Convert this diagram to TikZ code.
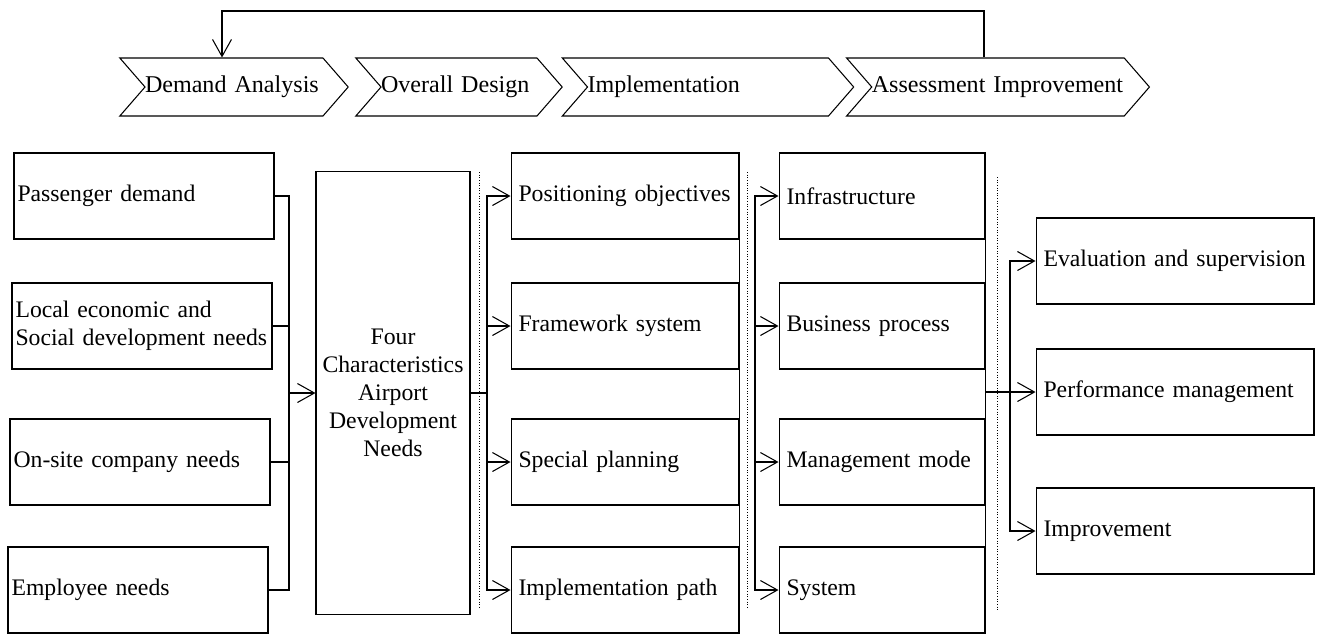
\documentclass[tikz,border=0pt]{standalone}
\usepackage{fontspec}
\setmainfont{Liberation Serif}
\usetikzlibrary{shapes.symbols,arrows.meta}
\tikzset{
  stage/.style={shape=signal,draw,signal from=west,signal to=east,signal pointer angle=98,
    minimum height=1.16cm,inner sep=0pt,text width=#1,align=left,font=\fontsize{13.7}{16}\selectfont},
  needbox/.style={draw,rectangle,minimum height=1.72cm,text width=#1,inner xsep=0.15cm,
    align=left,font=\fontsize{13.5}{16}\selectfont},
  corebox/.style={draw,rectangle,minimum height=8.88cm,text width=2.9cm,inner xsep=0.09cm,
    align=center,font=\fontsize{13.5}{16}\selectfont},
  arr/.style={-{Straight Barb[length=0.34cm,width=0.38cm]}},
  sepline/.style={densely dotted,line width=0.5pt}
}

\begin{document}
\begin{tikzpicture}[x=0.02cm,y=-0.02cm,line width=0.6pt]
  \useasboundingbox (0,0) rectangle (1317,633);

  % stages
  \node[stage=3.56cm] (da) at (234,87) {Demand Analysis};
  \node[stage=3.12cm] (od) at (459,87) {Overall Design};
  \node[stage=4.82cm] (im) at (708,87) {Implementation};
  \node[stage=5.05cm] (ai) at (998,87) {Assessment Improvement};

  % feedback
  \coordinate (fb) at (222,11);
  \draw[arr] ([xshift=-0.28cm]ai.north) |- (fb) -- (fb |- da.north);

  % demands
  \node[needbox=5.06cm,inner xsep=0.07cm] (pd) at (144,196) {Passenger demand};
  \node[needbox=5.06cm,inner xsep=0.07cm] (le) at (142,326) {Local economic and\\Social development needs};
  \node[needbox=5.06cm,inner xsep=0.07cm] (os) at (140,462) {On-site company needs};
  \node[needbox=5.06cm,inner xsep=0.07cm] (en) at (138,590) {Employee needs};
  \node[corebox] (fc) at (393,393) {Four\\Characteristics\\Airport\\Development\\Needs};

  \coordinate (ja) at (289,393);
  \foreach \b in {pd,le,os,en}
    \draw (\b.east) -| (ja);
  \draw[arr] (ja) -- (fc.west);

  % design
  \node[needbox=4.26cm] (po) at (625,196) {Positioning objectives};
  \node[needbox=4.26cm] (fw) at (625,326) {Framework system};
  \node[needbox=4.26cm] (spl) at (625,462) {Special planning};
  \node[needbox=4.26cm] (ip) at (625,590) {Implementation path};

  \coordinate (jb) at (487,393);
  \draw (fc.east) -- (jb);
  \foreach \b in {po,fw,spl,ip}
    \draw[arr] (jb) |- (\b.west);
  \draw (po.north east) -- (ip.south east);

  % implementation
  \node[needbox=3.82cm] (inf) at (882,196) {Infrastructure};
  \node[needbox=3.82cm] (bp) at (882,326) {Business process};
  \node[needbox=3.82cm] (mm) at (882,462) {Management mode};
  \node[needbox=3.82cm] (sys) at (882,590) {System};

  \coordinate (jc) at (755,393);
  \foreach \b in {inf,bp,mm,sys}
    \draw[arr] (jc) |- (\b.west);
  \draw (inf.north east) -- (sys.south east);

  % assessment
  \node[needbox=5.26cm] (es) at (1175,261) {Evaluation and supervision};
  \node[needbox=5.26cm] (pm) at (1175,392) {Performance management};
  \node[needbox=5.26cm] (imp) at (1175,531) {Improvement};

  \coordinate (jd) at (inf.east |- pm.west);
  \coordinate (je) at (1010,392);
  \draw[arr] (jd) -- (pm.west);
  \foreach \b in {es,imp}
    \draw[arr] (je) |- (\b.west);

  \draw[sepline] (479,172) -- (479,607);
  \draw[sepline] (747,172) -- (747,607);
  \draw[sepline] (997,177) -- (997,610);
\end{tikzpicture}
\end{document}
